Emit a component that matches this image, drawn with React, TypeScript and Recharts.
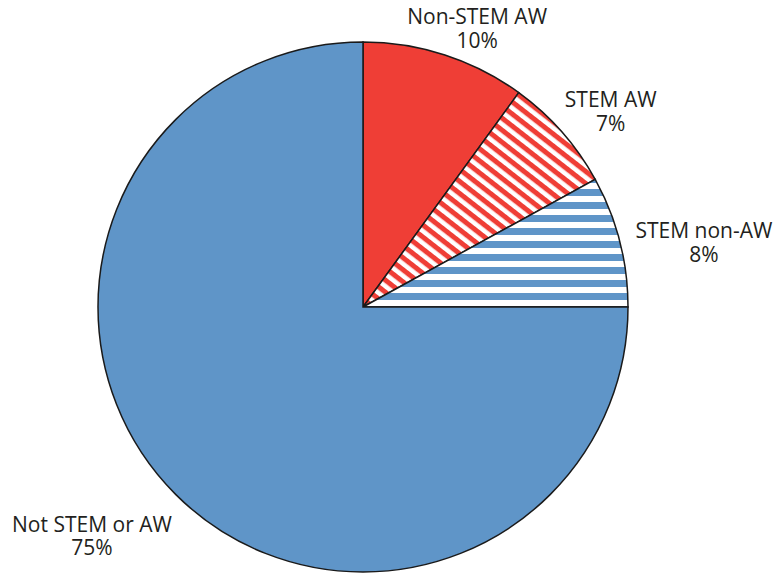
import { PieChart, Pie, Cell } from "recharts";

const names = ["Non-STEM AW", "STEM AW", "STEM non-AW", "Not STEM or AW"];
const shares = [10, 7, 8, 75];
const fills = ["#ef3e36", "url(#redDiag)", "url(#blueHoriz)", "#5f95c8"];

// label nudges relative to the default spot (extra radius, angle shift in degrees)
const labelExtraR = [29.5, 46, 80.7, 94.4];
const labelShift = [-4.8, -4.2, -4.9, -3.95];

const data = names.map((name, i) => ({ name, value: shares[i] }));

const RAD = Math.PI / 180;

function renderLabel(props: any) {
  const { cx, cy, midAngle, outerRadius, index } = props;
  const r = outerRadius + labelExtraR[index];
  const a = (midAngle + labelShift[index]) * RAD;
  const x = cx + r * Math.cos(a);
  const y = cy - r * Math.sin(a);
  return (
    <text
      x={x}
      y={y}
      textAnchor="middle"
      fill="#231f20"
      fontSize={21}
      fontFamily="'Open Sans', 'Noto Sans', sans-serif"
    >
      <tspan x={x} y={y - 11.5}>{names[index]}</tspan>
      <tspan x={x} y={y + 12}>{shares[index]}%</tspan>
    </text>
  );
}

export default function App() {
  return (
    <div style={{ position: "absolute", left: 0, top: 0, width: 781, height: 573, background: "#fff" }}>
      {/* patterns live in a hidden svg so the slices can reference them */}
      <svg width={0} height={0} style={{ position: "absolute" }}>
        <defs>
          <pattern id="redDiag" patternUnits="userSpaceOnUse" width={9.5} height={9.5} patternTransform="rotate(38)">
            <rect x={0} y={0} width={9.5} height={9.5} fill="#ffffff" />
            <rect x={0} y={0} width={9.5} height={5} fill="#ef3e36" />
          </pattern>
          <pattern id="blueHoriz" patternUnits="userSpaceOnUse" x={0} y={7} width={13} height={13}>
            <rect x={0} y={0} width={13} height={13} fill="#ffffff" />
            <rect x={0} y={0} width={13} height={7} fill="#5f95c8" />
          </pattern>
        </defs>
      </svg>
      <PieChart width={781} height={573} margin={{ top: 0, right: 0, bottom: 0, left: 0 }}>
        <Pie
          data={data}
          dataKey="value"
          cx={363}
          cy={307}
          outerRadius={265}
          startAngle={90}
          endAngle={-270}
          stroke="#1a1a1a"
          strokeWidth={1.5}
          label={renderLabel}
          labelLine={false}
          isAnimationActive={false}
        >
          {data.map((d, i) => (
            <Cell key={d.name} fill={fills[i]} />
          ))}
        </Pie>
      </PieChart>
    </div>
  );
}
